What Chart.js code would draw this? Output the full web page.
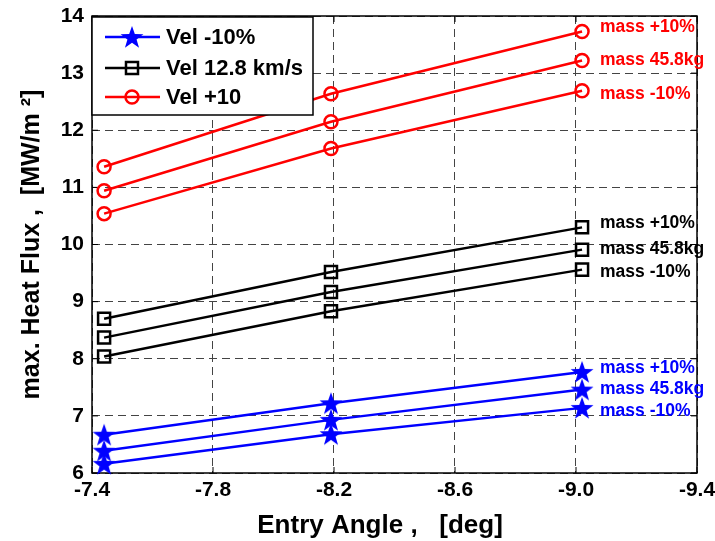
<!DOCTYPE html>
<html>
<head>
<meta charset="utf-8">
<script src="https://cdn.jsdelivr.net/npm/chart.js@4/dist/chart.umd.min.js"></script>
<style>
    html, body { margin: 0; padding: 0; background: #fff; }
</style>
</head>
<body>
<canvas id="myChart" width="715" height="541"></canvas>
<script>
const entryAngles = [-7.44, -8.19, -9.02];
const xTicks = [-7.4, -7.8, -8.2, -8.6, -9.0, -9.4];
const yTicks = [6, 7, 8, 9, 10, 11, 12, 13, 14];

const velLabels = ['Vel -10%', 'Vel 12.8 km/s', 'Vel +10'];
const massLabels = ['mass +10%', 'mass 45.8kg', 'mass -10%'];

// Vel -10%
const velMinusMassPlus = [6.67, 7.22, 7.77];
const velMinusMassNom = [6.39, 6.93, 7.46];
const velMinusMassMinus = [6.16, 6.68, 7.14];

// Vel 12.8 km/s
const velNomMassPlus = [8.70, 9.52, 10.30];
const velNomMassNom = [8.37, 9.17, 9.91];
const velNomMassMinus = [8.04, 8.83, 9.56];

// Vel +10
const velPlusMassPlus = [11.36, 12.64, 13.73];
const velPlusMassNom = [10.94, 12.15, 13.22];
const velPlusMassMinus = [10.54, 11.68, 12.69];

const FONT = '"Liberation Sans", Arial, sans-serif';

/**
 * 塗りつぶしの星形マーカーを生成します。
 */
const createStar = (color) => {
    const size = 26;
    const c = document.createElement('canvas');
    c.width = size;
    c.height = size;
    const ctx = c.getContext('2d');
    const outer = 12;
    const inner = 4.8;
    ctx.beginPath();
    for (let i = 0; i < 10; i++) {
        const r = i % 2 === 0 ? outer : inner;
        const a = -Math.PI / 2 + i * Math.PI / 5;
        ctx.lineTo(size / 2 + r * Math.cos(a), size / 2 + 1 + r * Math.sin(a));
    }
    ctx.closePath();
    ctx.fillStyle = color;
    ctx.fill();
    return c;
};

const groups = [
    { label: velLabels[0], color: '#0000ff', style: createStar('#0000ff'), radius: 11, series: [velMinusMassPlus, velMinusMassNom, velMinusMassMinus] },
    { label: velLabels[1], color: '#000000', style: 'rect', radius: 8.5, series: [velNomMassPlus, velNomMassNom, velNomMassMinus] },
    { label: velLabels[2], color: '#ff0000', style: 'circle', radius: 6.5, series: [velPlusMassPlus, velPlusMassNom, velPlusMassMinus] },
];

/**
 * データセットを生成します。
 */
const createDatasets = () => {
    const ret = [];
    groups.forEach((group, g) => {
        group.series.forEach((values, m) => {
            ret.push({
                label: group.label + ' ' + massLabels[m],
                group: g,
                mass: m,
                data: values.map((v, i) => ({ x: entryAngles[i], y: v })),
                borderColor: group.color,
                backgroundColor: 'rgba(0,0,0,0)',
                borderWidth: 2.5,
                pointStyle: group.style,
                pointRadius: group.radius,
                pointBorderColor: group.color,
                pointBackgroundColor: 'rgba(0,0,0,0)',
                pointBorderWidth: 2.5,
                clip: false,
            });
        });
    });
    return ret;
};

/**
 * 枠線・目盛り線・系列ラベル・凡例を描画します。
 */
const framePlugin = {
    id: 'frame',
    beforeDatasetsDraw(chart) {
        const { ctx, chartArea: a, scales } = chart;
        ctx.save();
        ctx.strokeStyle = '#000';
        ctx.lineWidth = 1.5;
        ctx.strokeRect(a.left, a.top, a.right - a.left, a.bottom - a.top);
        ctx.lineWidth = 1;
        ctx.beginPath();
        xTicks.forEach((v) => {
            const x = scales.x.getPixelForValue(v);
            ctx.moveTo(x, a.bottom);
            ctx.lineTo(x, a.bottom - 6);
            ctx.moveTo(x, a.top);
            ctx.lineTo(x, a.top + 6);
        });
        yTicks.forEach((v) => {
            const y = scales.y.getPixelForValue(v);
            ctx.moveTo(a.left, y);
            ctx.lineTo(a.left + 6, y);
            ctx.moveTo(a.right, y);
            ctx.lineTo(a.right - 6, y);
        });
        ctx.stroke();
        ctx.restore();
    },
    afterDatasetsDraw(chart) {
        const { ctx, chartArea: a } = chart;
        ctx.save();

        // 系列ラベル
        const nudge = [-4, 0, 3];
        ctx.font = 'bold 17.5px ' + FONT;
        ctx.textBaseline = 'middle';
        ctx.textAlign = 'left';
        chart.data.datasets.forEach((ds, i) => {
            const meta = chart.getDatasetMeta(i);
            const last = meta.data[meta.data.length - 1];
            ctx.fillStyle = ds.borderColor;
            ctx.fillText(massLabels[ds.mass], last.x + 18, last.y + nudge[ds.mass]);
        });

        // 凡例
        const box = { x: a.left, y: a.top + 1, w: 221, h: 98 };
        ctx.fillStyle = '#fff';
        ctx.fillRect(box.x, box.y, box.w, box.h);
        ctx.strokeStyle = '#000';
        ctx.lineWidth = 1.5;
        ctx.strokeRect(box.x, box.y, box.w, box.h);
        const rows = [box.y + 20, box.y + 51, box.y + 80];
        groups.forEach((group, g) => {
            const y = rows[g];
            ctx.strokeStyle = group.color;
            ctx.lineWidth = 2.5;
            ctx.beginPath();
            ctx.moveTo(box.x + 13, y);
            ctx.lineTo(box.x + 68, y);
            ctx.stroke();
            ctx.fillStyle = 'rgba(0,0,0,0)';
            Chart.helpers.drawPoint(ctx, {
                pointStyle: group.style,
                radius: group.radius,
                borderWidth: 2.5,
                rotation: 0,
            }, box.x + 40, y);
            ctx.font = 'bold 22px ' + FONT;
            ctx.fillStyle = '#000';
            ctx.fillText(group.label, box.x + 74, y + 1);
        });

        ctx.restore();
    },
};

/**
 * グラフの生成を行います。
 */
const createChart = () => {
    const config = {
        type: 'line',
        data: { datasets: createDatasets() },
        options: {
            responsive: false,
            animation: false,
            layout: { padding: { top: 16, right: 18, left: 0, bottom: 0 } },
            plugins: {
                legend: { display: false },
                tooltip: { enabled: false },
            },
            scales: {
                x: {
                    type: 'linear',
                    reverse: true,
                    min: -9.4,
                    max: -7.4,
                    afterBuildTicks: (scale) => {
                        scale.ticks = xTicks.map((v) => ({ value: v }));
                    },
                    afterFit: (scale) => {
                        scale.height = 68;
                        scale.paddingLeft = 0;
                        scale.paddingRight = 0;
                    },
                    ticks: {
                        autoSkip: false,
                        maxRotation: 0,
                        padding: 5,
                        color: '#000',
                        font: { family: FONT, size: 21, weight: 'bold' },
                        callback: (v) => Number(v).toFixed(1),
                    },
                    grid: { color: '#444', lineWidth: 1, drawTicks: false },
                    border: { display: false, dash: [8, 5] },
                    title: {
                        display: true,
                        text: 'Entry Angle ,   [deg]    ',
                        color: '#000',
                        font: { family: FONT, size: 26, weight: 'bold' },
                        padding: { top: 4, bottom: 0 },
                    },
                },
                y: {
                    min: 6,
                    max: 14,
                    afterBuildTicks: (scale) => {
                        scale.ticks = yTicks.map((v) => ({ value: v }));
                    },
                    afterFit: (scale) => {
                        scale.width = 92;
                        scale.paddingTop = 0;
                        scale.paddingBottom = 0;
                    },
                    ticks: {
                        padding: 8,
                        color: '#000',
                        font: { family: FONT, size: 21, weight: 'bold' },
                    },
                    grid: { color: '#444', lineWidth: 1, drawTicks: false },
                    border: { display: false, dash: [8, 5] },
                    title: {
                        display: true,
                        text: 'max. Heat Flux ,  [MW/m ²]',
                        color: '#000',
                        font: { family: FONT, size: 25, weight: 'bold' },
                        padding: { top: 17, bottom: 0 },
                    },
                },
            },
        },
        plugins: [framePlugin],
    };

    return new Chart(document.getElementById('myChart'), config);
};

createChart();
</script>
</body>
</html>
